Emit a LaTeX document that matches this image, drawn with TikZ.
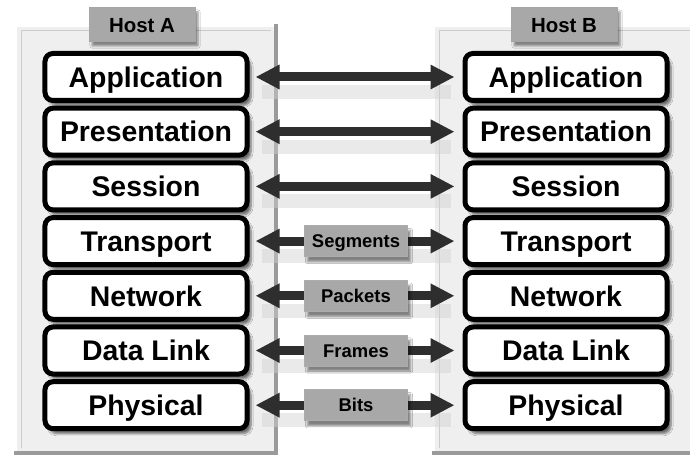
\documentclass[tikz,border=0pt]{standalone}
\usepackage{fontspec}
\setmainfont{Liberation Sans}
\usetikzlibrary{arrows.meta,shadows.blur}
\definecolor{arrowdark}{HTML}{2E2E2E}
\definecolor{panelfill}{HTML}{EFEFEF}
\definecolor{paneledge}{HTML}{9A9A9A}
\definecolor{tagfill}{HTML}{A8A8A8}
\tikzset{
  layer/.style={draw=black, line width=5bp, rounded corners=8bp, fill=white,
    minimum width=202bp, minimum height=47bp, inner sep=0pt,
    text height=20.5bp, text depth=0bp,
    font=\fontsize{28.5}{30}\selectfont\bfseries,
    blur shadow={shadow xshift=4bp, shadow yshift=-5bp, shadow opacity=55, shadow blur steps=6}},
  hosttag/.style={fill=tagfill, draw=gray!70, line width=1bp, minimum width=106bp, minimum height=34bp,
    inner sep=0pt, text height=14.7bp, text depth=0bp, font=\fontsize{20.5}{22}\selectfont\bfseries,
    blur shadow={shadow xshift=3bp, shadow yshift=-4bp, shadow opacity=45}},
  pdutag/.style={fill=tagfill, draw=gray!65, line width=1bp, minimum width=103bp, minimum height=31bp,
    inner sep=0pt, text height=13.3bp, text depth=0bp, font=\fontsize{18.5}{20}\selectfont\bfseries,
    blur shadow={shadow xshift=3bp, shadow yshift=-5bp, shadow opacity=45}},
  peer/.style={draw=arrowdark, line width=9bp,
    {Triangle[length=24bp,width=23bp]}-{Triangle[length=24bp,width=23bp]},
    shorten <=6bp, shorten >=8bp},
  peershadow/.style={draw=gray!35, line width=14bp, opacity=0.45, shorten <=12bp, shorten >=12bp}
}
\begin{document}
\begin{tikzpicture}[x=1bp,y=-1bp]
\useasboundingbox (0,0) rectangle (690,461);
\fill[white] (0,0) rectangle (690,461);
% panels
\fill[panelfill] (14,24) rectangle (278,455);
\draw[white, line width=3bp] (15.5,453) -- (15.5,25.5) -- (276,25.5);
\draw[gray!40, line width=1bp] (21,448) -- (21,31) -- (271,31);
\draw[paneledge, line width=4bp] (14,453) -- (276,453) -- (276,24);
\fill[panelfill] (432,24) rectangle (690,455);
\draw[white, line width=3bp] (433.5,453) -- (433.5,25.5) -- (690,25.5);
\draw[gray!40, line width=1bp] (439,448) -- (439,31) -- (690,31);
\draw[paneledge, line width=4bp] (432,453) -- (690,453);
% host tags
\node[hosttag] (hostA) at (142,25) {Host A};
\node[hosttag] (hostB) at (564,25) {Host B};
% layers
\foreach \n/\t [count=\i from 0] in {app/Application,pre/Presentation,ses/Session,tra/Transport,net/Network,dl/Data Link,phy/Physical}{
  \node[layer] (\n A) at (146,{77+54.7*\i}) {\t};
  \node[layer] (\n B) at (566,{77+54.7*\i}) {\t};
}
% arrow shadows
\foreach \n in {app,pre,ses,tra,net,dl,phy}{
  \draw[peershadow] ([yshift=-15bp]\n A.east) -- ([yshift=-15bp]\n B.west);
}
% peer arrows
\draw[peer] (appA) -- (appB);
\draw[peer] (preA) -- (preB);
\draw[peer] (sesA) -- (sesB);
\draw[peer] (traA) -- node[pdutag] (seg) {Segments} (traB);
\draw[peer] (netA) -- node[pdutag] (pkt) {Packets} (netB);
\draw[peer] (dlA) -- node[pdutag] (frm) {Frames} (dlB);
\draw[peer] (phyA) -- node[pdutag] (bit) {Bits} (phyB);
\end{tikzpicture}
\end{document}
